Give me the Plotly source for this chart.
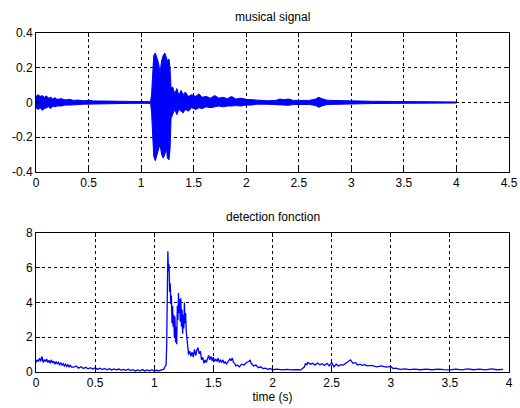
import plotly.graph_objects as go
from plotly.subplots import make_subplots

# ---- musical signal: envelope ----
sig_t = [0.00, 0.02, 0.04, 0.06, 0.08, 0.10, 0.12, 0.14, 0.16, 0.18, 0.20, 0.24, 0.28, 0.32,
         0.36, 0.40, 0.45, 0.50, 0.55, 0.60, 0.70, 0.80, 0.90, 1.00, 1.09, 1.10, 1.11, 1.12,
         1.135, 1.15, 1.165, 1.18, 1.195, 1.21, 1.225, 1.24, 1.25, 1.265, 1.275, 1.285, 1.30,
         1.32, 1.34, 1.36, 1.38, 1.40, 1.42, 1.45, 1.48, 1.52, 1.55, 1.58, 1.62, 1.66, 1.70,
         1.74, 1.78, 1.82, 1.86, 1.90, 1.95, 2.00, 2.05, 2.10, 2.20, 2.28, 2.32, 2.36, 2.40,
         2.45, 2.50, 2.55, 2.60, 2.66, 2.69, 2.72, 2.76, 2.80, 2.90, 3.00, 3.20, 3.40, 3.60,
         3.80, 4.00]
sig_up = [0.035, 0.045, 0.035, 0.040, 0.030, 0.038, 0.025, 0.030, 0.020, 0.028, 0.018, 0.022,
          0.015, 0.018, 0.012, 0.014, 0.010, 0.012, 0.009, 0.010, 0.008, 0.007, 0.006, 0.005,
          0.005, 0.050, 0.220, 0.270, 0.285, 0.260, 0.230, 0.170, 0.240, 0.270, 0.285, 0.260,
          0.240, 0.250, 0.200, 0.080, 0.090, 0.050, 0.080, 0.040, 0.070, 0.045, 0.060, 0.035,
          0.045, 0.035, 0.050, 0.030, 0.035, 0.025, 0.040, 0.025, 0.030, 0.022, 0.035, 0.020,
          0.025, 0.018, 0.015, 0.012, 0.010, 0.012, 0.020, 0.016, 0.020, 0.012, 0.012, 0.011,
          0.012, 0.020, 0.030, 0.022, 0.014, 0.012, 0.010, 0.009, 0.007, 0.006, 0.005, 0.004,
          0.003]
sig_lo = [-0.030, -0.040, -0.030, -0.045, -0.035, -0.030, -0.025, -0.035, -0.020, -0.025,
          -0.020, -0.020, -0.015, -0.015, -0.012, -0.012, -0.010, -0.010, -0.008, -0.008,
          -0.007, -0.006, -0.005, -0.005, -0.005, -0.060, -0.250, -0.310, -0.335, -0.300,
          -0.260, -0.240, -0.300, -0.320, -0.300, -0.260, -0.320, -0.330, -0.270, -0.090,
          -0.070, -0.040, -0.070, -0.040, -0.050, -0.060, -0.040, -0.050, -0.030, -0.040,
          -0.030, -0.035, -0.025, -0.030, -0.025, -0.020, -0.025, -0.020, -0.020, -0.018,
          -0.020, -0.015, -0.015, -0.010, -0.010, -0.012, -0.016, -0.014, -0.016, -0.012,
          -0.011, -0.010, -0.011, -0.018, -0.028, -0.020, -0.013, -0.011, -0.009, -0.008,
          -0.006, -0.005, -0.004, -0.004, -0.003]

# ---- detection function ----
det_t = [0.00, 0.01, 0.02, 0.03, 0.04, 0.05, 0.06, 0.07, 0.08, 0.09, 0.10, 0.11, 0.12, 0.13,
         0.14, 0.15, 0.16, 0.17, 0.18, 0.19, 0.20, 0.21, 0.22, 0.23, 0.24, 0.25, 0.26, 0.27,
         0.28, 0.29, 0.30,
         0.32, 0.34, 0.36, 0.38, 0.40, 0.42, 0.44, 0.46, 0.48, 0.50, 0.52, 0.54,
         0.56, 0.58, 0.60, 0.62, 0.64, 0.66, 0.68, 0.70, 0.72, 0.74, 0.76, 0.78, 0.80, 0.82,
         0.84, 0.86, 0.88, 0.90, 0.92, 0.94, 0.96, 0.98, 1.00, 1.02, 1.04, 1.06, 1.08, 1.09,
         1.10, 1.105, 1.11, 1.115, 1.12, 1.125, 1.13, 1.135, 1.14, 1.145, 1.15, 1.155, 1.16,
         1.165, 1.17, 1.175, 1.18, 1.185, 1.19, 1.195, 1.20, 1.205, 1.21, 1.215, 1.22, 1.225,
         1.23, 1.235, 1.24, 1.245, 1.25, 1.255, 1.26, 1.265, 1.27, 1.275, 1.28, 1.285, 1.29,
         1.30, 1.31, 1.32, 1.33, 1.34, 1.35, 1.36, 1.37, 1.38, 1.39, 1.40, 1.41, 1.42, 1.43,
         1.44, 1.45, 1.46, 1.47, 1.48, 1.49, 1.50, 1.51, 1.52, 1.53, 1.54, 1.55, 1.56, 1.57,
         1.58, 1.59, 1.60, 1.61, 1.62, 1.63, 1.64, 1.65, 1.66, 1.67, 1.68, 1.69, 1.70,
         1.72, 1.74, 1.76, 1.78, 1.80, 1.81, 1.82, 1.84, 1.86, 1.88, 1.90,
         1.92, 1.94, 1.96, 1.98, 2.00, 2.04, 2.08, 2.12, 2.16, 2.20, 2.24, 2.27, 2.28, 2.29,
         2.30, 2.32, 2.34, 2.36, 2.38, 2.40, 2.42, 2.44, 2.46, 2.48, 2.50, 2.52, 2.54, 2.56,
         2.58, 2.60, 2.62, 2.64, 2.66, 2.68, 2.70, 2.72, 2.74, 2.76, 2.78, 2.80, 2.84, 2.88,
         2.92, 2.96, 3.00, 3.02, 3.04, 3.08, 3.12, 3.16, 3.20, 3.25, 3.30, 3.35, 3.40, 3.45,
         3.50, 3.55, 3.60, 3.65, 3.70, 3.75, 3.80, 3.85, 3.90, 3.95, 4.00]
det_v = [0.55, 0.70, 0.60, 0.80, 0.62, 0.90, 0.55, 0.72, 0.60, 0.75, 0.55, 0.68, 0.50, 0.70,
         0.52, 0.62, 0.45, 0.60, 0.48, 0.55, 0.42, 0.52, 0.40, 0.48, 0.35, 0.45, 0.32, 0.42,
         0.30, 0.38, 0.28,
         0.28, 0.35, 0.22, 0.30, 0.20, 0.27, 0.18, 0.25, 0.17, 0.24, 0.15, 0.22,
         0.14, 0.20, 0.13, 0.19, 0.12, 0.18, 0.12, 0.17, 0.11, 0.15, 0.10, 0.16, 0.08, 0.13,
         0.06, 0.12, 0.07, 0.14, 0.06, 0.12, 0.07, 0.13, 0.06, 0.10, 0.07, 0.12, 0.15, 0.30,
         0.40, 1.50, 4.50, 6.95, 5.80, 6.20, 4.60, 5.10, 3.90, 4.40, 2.80, 3.80, 2.60, 3.30,
         2.00, 3.20, 1.70, 2.60, 1.60, 3.80, 3.00, 4.55, 3.40, 4.20, 2.90, 4.25, 2.60, 3.60,
         2.20, 3.30, 2.50, 4.00, 2.80, 3.40, 2.40, 2.00, 1.40, 1.20, 1.00,
         1.20, 0.90, 1.15, 0.85, 1.30, 0.95, 1.25, 1.40, 1.05, 1.20, 0.70, 0.85, 0.50, 0.70,
         0.55, 0.80, 0.95, 0.70, 0.90, 0.65, 0.85, 0.60, 0.75, 0.60, 0.80, 0.55, 0.70, 0.55,
         0.70, 0.50, 0.60, 0.45, 0.55, 0.60, 0.75, 0.65, 0.80, 0.55, 0.50, 0.35, 0.40,
         0.30, 0.45, 0.40, 0.55, 0.60, 0.70, 0.50, 0.35, 0.40, 0.25, 0.30, 0.20, 0.22,
         0.15, 0.20, 0.13, 0.16, 0.12, 0.15, 0.12, 0.14, 0.12, 0.30, 0.50, 0.42, 0.55, 0.45,
         0.50, 0.40, 0.52, 0.42, 0.48, 0.38, 0.50, 0.35, 0.55, 0.30, 0.45, 0.35, 0.42, 0.40,
         0.50, 0.55, 0.70, 0.50, 0.55, 0.40, 0.45, 0.38, 0.42, 0.35, 0.38, 0.30, 0.35, 0.28,
         0.32, 0.20, 0.22, 0.15, 0.18, 0.14, 0.17, 0.13, 0.16, 0.13, 0.17, 0.14, 0.12, 0.16,
         0.12, 0.18, 0.13, 0.17, 0.12, 0.18, 0.13, 0.15]

top_xticks = [0, 0.5, 1, 1.5, 2, 2.5, 3, 3.5, 4, 4.5]
top_xlabels = ["0", "0.5", "1", "1.5", "2", "2.5", "3", "3.5", "4", "4.5"]
top_yticks = [-0.4, -0.2, 0, 0.2, 0.4]
top_ylabels = ["-0.4", "-0.2", "0", "0.2", "0.4"]
bot_xticks = [0, 0.5, 1, 1.5, 2, 2.5, 3, 3.5, 4]
bot_xlabels = ["0", "0.5", "1", "1.5", "2", "2.5", "3", "3.5", "4"]
bot_yticks = [0, 2, 4, 6, 8]
bot_ylabels = ["0", "2", "4", "6", "8"]

BLUE = "#0000ff"
FONT = "Liberation Sans, Arial, sans-serif"

fig = make_subplots(rows=2, cols=1)

fig.add_trace(go.Scatter(x=sig_t, y=sig_up, mode="lines", line=dict(color=BLUE, width=1),
                         showlegend=False, hoverinfo="skip"), row=1, col=1)
fig.add_trace(go.Scatter(x=sig_t, y=sig_lo, mode="lines", line=dict(color=BLUE, width=1),
                         fill="tonexty", fillcolor=BLUE, showlegend=False, hoverinfo="skip"),
              row=1, col=1)
fig.add_trace(go.Scatter(x=det_t, y=det_v, mode="lines", line=dict(color=BLUE, width=1.3),
                         showlegend=False), row=2, col=1)

axis_common = dict(showline=True, linecolor="black", linewidth=1, mirror="ticks",
                   ticks="inside", ticklen=4, tickcolor="black",
                   showgrid=True, gridcolor="black", gridwidth=1, griddash="3px,3px",
                   zeroline=False, automargin=False,
                   tickfont=dict(family=FONT, size=12, color="black"))

fig.update_layout(
    template="none",
    width=520, height=408,
    margin=dict(l=36, r=11, t=33, b=36),
    paper_bgcolor="white", plot_bgcolor="white",
    font=dict(family=FONT, size=12, color="black"),
    xaxis=dict(domain=[0, 1], range=[0, 4.5], tickvals=top_xticks, ticktext=top_xlabels,
               **axis_common),
    yaxis=dict(domain=[0.59, 1], range=[-0.4, 0.4], tickvals=top_yticks, ticktext=top_ylabels,
               **axis_common),
    xaxis2=dict(domain=[0, 1], range=[0, 4], tickvals=bot_xticks, ticktext=bot_xlabels,
                title=dict(text="time (s)", font=dict(family=FONT, size=12, color="black"),
                           standoff=2),
                **axis_common),
    yaxis2=dict(domain=[0, 0.41], range=[0, 8], tickvals=bot_yticks, ticktext=bot_ylabels,
                **axis_common),
    annotations=[
        dict(text="musical signal", xref="x domain", yref="y domain", x=0.5, y=1,
             yanchor="bottom", yshift=7, showarrow=False,
             font=dict(family=FONT, size=12, color="black")),
        dict(text="detection fonction", xref="x2 domain", yref="y2 domain", x=0.5, y=1,
             yanchor="bottom", yshift=7, showarrow=False,
             font=dict(family=FONT, size=12, color="black")),
    ],
)

fig.write_html("out.html", config={"displayModeBar": False},
               post_script="document.body.style.margin='0';document.body.style.padding='0';")
